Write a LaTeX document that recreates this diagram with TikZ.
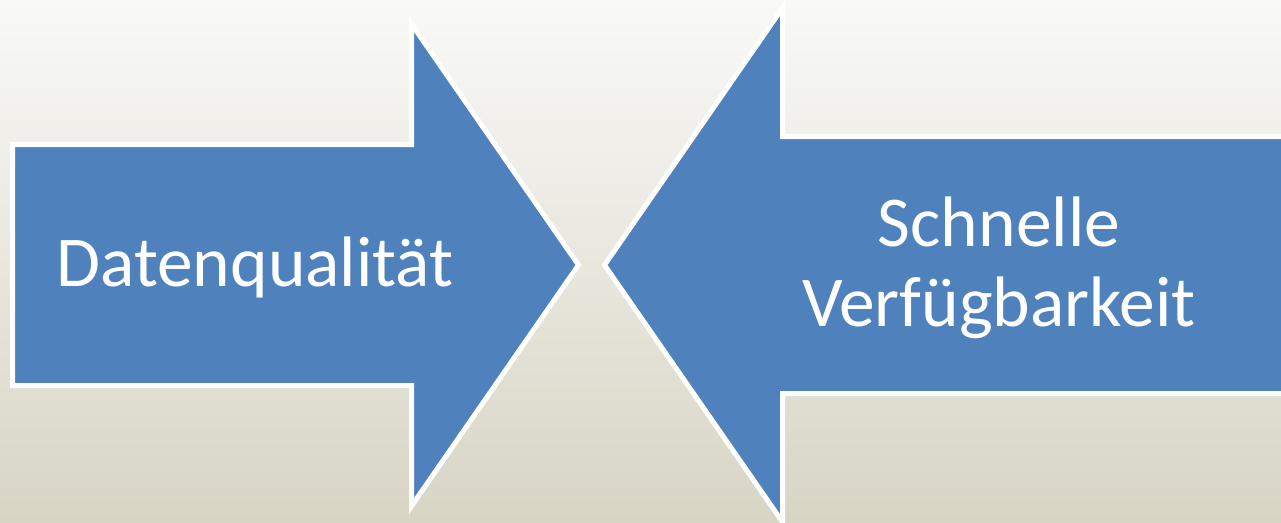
\documentclass[tikz,border=0pt]{standalone}
\usepackage{fontspec}
\setmainfont{Carlito}
\definecolor{arrowblue}{RGB}{79,129,189}
\definecolor{bgtop}{RGB}{249,249,247}
\definecolor{bgbot}{RGB}{216,213,197}
\begin{document}
\begin{tikzpicture}[x=1pt,y=-1pt,
  arrowshape/.style={fill=arrowblue,draw=white,line width=5pt,line join=miter,miter limit=10},
  label/.style={text=white,font=\fontsize{71.5}{80}\selectfont,align=center,inner sep=0pt}]
\useasboundingbox (0,0) rectangle (1281,522);
\shade[top color=bgtop,bottom color=bgbot] (0,0) rectangle (1281,522);
\begin{scope}
\clip (0,0) rectangle (1281,522);
% left arrow
\draw[arrowshape] (12.5,144.5) -- (411.5,144.5) -- (411.5,24) -- (578.5,265) -- (411.5,506) -- (411.5,385.5) -- (12.5,385.5) -- cycle;
% right arrow
\draw[arrowshape] (1300,136.5) -- (782.5,136.5) -- (782.5,8) -- (604.5,265) -- (782.5,522) -- (782.5,393.5) -- (1300,393.5) -- cycle;
\end{scope}
\node[label] (dq) at (255,267) {Datenqualität};
\node[label] (sv) at (999,268) {Schnelle\\Verfügbarkeit};
\end{tikzpicture}
\end{document}
